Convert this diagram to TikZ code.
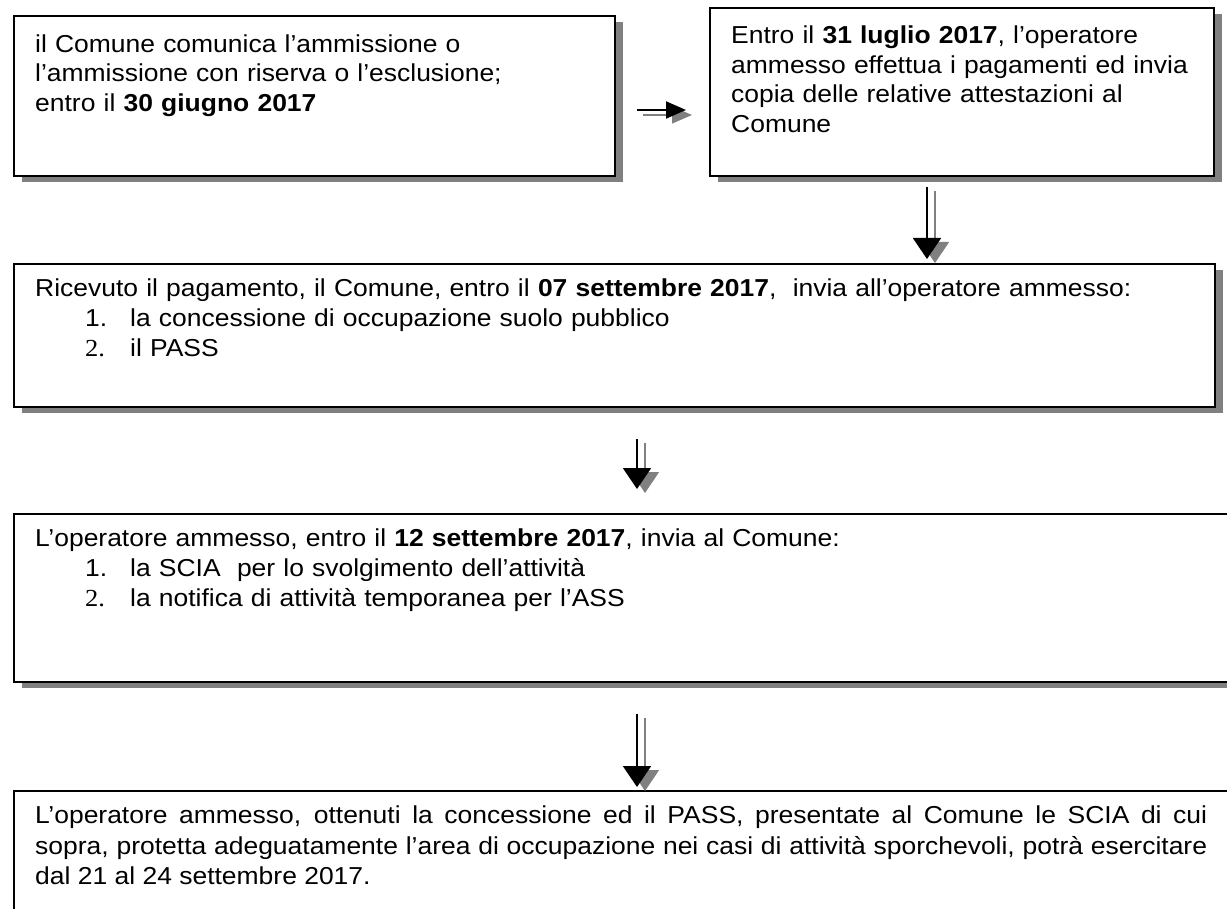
\documentclass[tikz,border=0pt]{standalone}
\usepackage{fontspec}
\setmainfont{Liberation Sans}[FakeStretch=1.08]
\newfontfamily\numfont{Liberation Serif}[FakeStretch=1.08]
\usetikzlibrary{arrows.meta,shadows}
\definecolor{shadowgray}{RGB}{128,128,128}
\newcommand{\itm}[2]{\hspace*{50pt}\makebox[45pt][l]{#1}#2}
\begin{document}
\begin{tikzpicture}[x=1pt,y=-1pt,
  box/.style={draw=black, line width=2pt, fill=white, inner sep=0pt, anchor=north west,
    drop shadow={shadow xshift=8pt, shadow yshift=-6pt, fill=shadowgray, opacity=1}},
  txt/.style={anchor=base west, inner sep=0pt, align=left, font=\fontsize{24.5}{29.4}\selectfont},
  arr/.style={line width=2pt, -{Triangle[width=28pt,length=21pt]}},
  arrsh/.style={draw=shadowgray, line width=1.4pt, -{Triangle[width=28pt,length=21pt,fill=shadowgray]},
    transform canvas={xshift=8pt,yshift=-4pt}},
  harr/.style={line width=2pt, -{Triangle[width=17pt,length=20pt]}},
  harrsh/.style={draw=shadowgray, line width=1.4pt, -{Triangle[width=17pt,length=20pt,fill=shadowgray]},
    transform canvas={xshift=6pt,yshift=-5pt}}]
\useasboundingbox (0,0) rectangle (1227,909);
\clip (0,0) rectangle (1227,909);

\node[box, minimum width=601pt, minimum height=160pt] (b1) at (12.5,15) {};
\node[box, minimum width=504pt, minimum height=168pt] (b2) at (709,7) {};
\node[box, minimum width=1201pt, minimum height=143pt] (b3) at (12.5,263) {};
\node[box, minimum width=1230pt, minimum height=168pt] (b4) at (12.5,513) {};
\node[box, minimum width=1230pt, minimum height=170pt] (b5) at (12.5,790) {};

\node[txt, text width=570pt] (t1) at (35,52.3) {il Comune comunica l’ammissione o\\
l’ammissione con riserva o l’esclusione;\\
entro il \textbf{30 giugno 2017}};

\node[txt, text width=490pt] (t2) at (731,44) {Entro il \textbf{31 luglio 2017}, l’operatore\\
ammesso effettua i pagamenti ed invia\\
copia delle relative attestazioni al\\
Comune};

\node[txt, text width=1175pt, font=\fontsize{24.5}{30}\selectfont] (t3) at (35,296.7) {Ricevuto il pagamento, il Comune, entro il \textbf{07 settembre 2017},\ \ invia all’operatore ammesso:\\
\itm{1.}{la concessione di occupazione suolo pubblico}\\
\itm{\numfont 2.}{il PASS}};

\node[txt, text width=1175pt, font=\fontsize{24.5}{30}\selectfont] (t4) at (35,546.7) {L’operatore ammesso, entro il \textbf{12 settembre 2017}, invia al Comune:\\
\itm{1.}{la SCIA\ \ per lo svolgimento dell’attività}\\
\itm{\numfont 2.}{la notifica di attività temporanea per l’ASS}};

\node[txt, text width=1172pt, align=justify, font=\fontsize{24.5}{30.5}\selectfont] (t5) at (35,823.7) {L’operatore ammesso, ottenuti la concessione ed il PASS, presentate al Comune le SCIA di cui\linebreak sopra, protetta adeguatamente l’area di occupazione nei casi di attività sporchevoli, potrà esercitare\linebreak dal 21 al 24 settembre 2017.};

\coordinate (a1s) at (637,110);
\coordinate (a1e) at (686,110);
\coordinate (a2s) at (927,187);
\coordinate (a2e) at (927,259);
\coordinate (a3s) at (637,439);
\coordinate (a3e) at (637,489);
\coordinate (a4s) at (637,714);
\coordinate (a4e) at (637,787);

\draw[harrsh] (a1s) -- (a1e);
\draw[harr] (a1s) -- (a1e);
\foreach \s/\e in {a2s/a2e,a3s/a3e,a4s/a4e}{
  \draw[arrsh] (\s) -- (\e);
  \draw[arr] (\s) -- (\e);
}
\end{tikzpicture}
\end{document}
